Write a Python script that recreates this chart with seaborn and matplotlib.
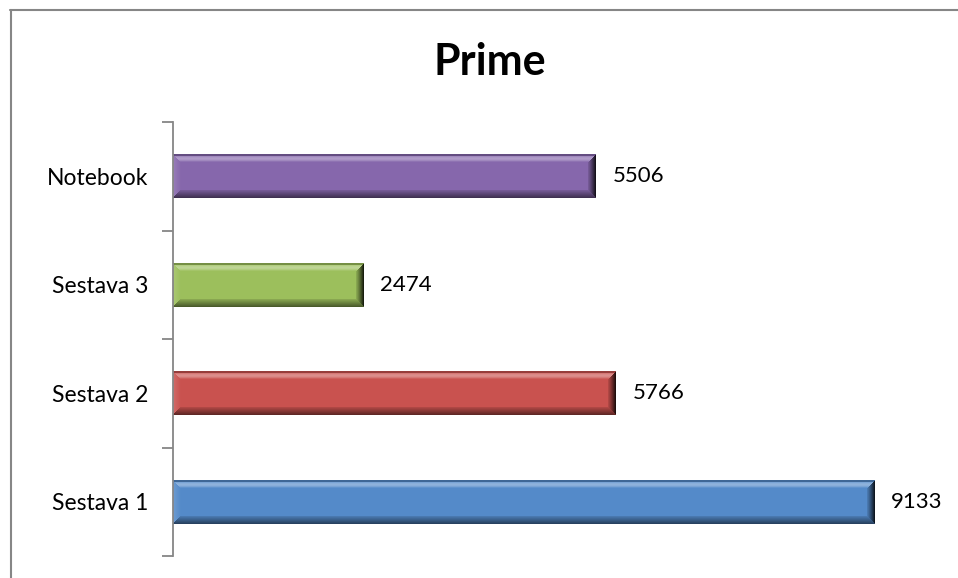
import numpy as np
import pandas as pd
import matplotlib
matplotlib.use("Agg")
import matplotlib.pyplot as plt
from matplotlib.lines import Line2D
from matplotlib.colors import to_rgb
import seaborn as sns

# Benchmark results (Prime), top to bottom as shown
systems = ["Notebook", "Sestava 3", "Sestava 2", "Sestava 1"]
scores = [5506, 2474, 5766, 9133]
colors = ["#8667AC", "#9CBF5C", "#C9524F", "#548AC9"]

df = pd.DataFrame({"system": systems, "score": scores})

sns.set_theme(style="white")
plt.rcParams["font.family"] = ["Lato", "DejaVu Sans"]

W, H = 958, 578
fig = plt.figure(figsize=(W / 100, H / 100), dpi=100)
ax = fig.add_axes([173 / W, 22 / H, 768 / W, 434 / H])

sns.barplot(data=df, x="score", y="system", hue="system", palette=colors,
            orient="h", width=0.405, legend=False, ax=ax, saturation=1)

ax.set_xlim(0, 10000)
ax.set_ylim(3.5, -0.5)


def bevel_image(rgb, npx_w, npx_h, b=8):
    """Shaded RGBA array giving a bevelled look to a bar."""
    yy, xx = np.mgrid[0:npx_h, 0:npx_w].astype(float)
    dt = yy + 0.5
    db = npx_h - yy - 0.5
    dl = xx + 0.5
    dr = npx_w - xx - 0.5
    base = np.array(rgb)
    out = np.ones((npx_h, npx_w, 3)) * base
    dmin = np.minimum.reduce([dt, db, dl, dr])
    inside = dmin < b
    edge = np.argmin(np.stack([dt, db, dl, dr]), axis=0)
    t = np.clip(dmin / b, 0, 1)

    def lighten(c, f):
        return c + (1 - c) * f

    def darken(c, f):
        return c * (1 - f)

    # top bevel: bright band with darker outer rim
    m = inside & (edge == 0)
    f_top = np.where(t < 0.2, -0.25, 0.35 * np.sin(np.pi * (t - 0.2) / 0.8 * 0.9 + 0.3))
    for k in range(3):
        ch = out[..., k]
        pos = m & (f_top >= 0)
        neg = m & (f_top < 0)
        ch[pos] = lighten(base[k], f_top[pos])
        ch[neg] = darken(base[k], -f_top[neg])
    # bottom bevel: darker
    m = inside & (edge == 1)
    f_bot = 0.45 * (1 - t) + 0.1
    for k in range(3):
        out[..., k][m] = darken(base[k], f_bot[m])
    # left bevel: slightly lighter
    m = inside & (edge == 2)
    f_l = 0.15 * (1 - t)
    for k in range(3):
        out[..., k][m] = lighten(base[k], f_l[m])
    # right bevel: fading to dark
    m = inside & (edge == 3)
    f_r = 0.8 * (1 - t) ** 1.2 + 0.1
    for k in range(3):
        out[..., k][m] = darken(base[k], f_r[m])
    return np.concatenate([np.clip(out, 0, 1), np.ones((npx_h, npx_w, 1))], axis=2)


fig.canvas.draw()
for patch, col in zip(ax.patches, colors):
    x0, y0 = patch.get_x(), patch.get_y()
    w, h = patch.get_width(), patch.get_height()
    p0 = ax.transData.transform((x0, y0))
    p1 = ax.transData.transform((x0 + w, y0 + h))
    npx_w = max(int(round(abs(p1[0] - p0[0]))), 2)
    npx_h = max(int(round(abs(p1[1] - p0[1]))), 2)
    img = bevel_image(to_rgb(col), npx_w, npx_h)
    ax.imshow(img, extent=(x0, x0 + w, y0 + h, y0), origin="upper",
              aspect="auto", interpolation="nearest", zorder=patch.get_zorder() + 0.1)
    ax.annotate(f"{int(round(w))}", xy=(x0 + w, y0 + h / 2), xytext=(12, 0),
                textcoords="offset points", ha="left", va="center",
                fontsize=16, color="#000000")

ax.set_xlim(0, 10000)
ax.set_ylim(3.5, -0.5)

# axis styling
for s in ["top", "right", "bottom"]:
    ax.spines[s].set_visible(False)
ax.spines["left"].set_color("#868686")
ax.spines["left"].set_linewidth(1.3)
ax.set_xticks([])
ax.set_xlabel("")
ax.set_ylabel("")
ax.set_yticks(range(len(systems)))
ax.set_yticklabels(systems, fontsize=16.5, color="#000000")
ax.tick_params(axis="y", which="major", length=0, pad=18)
ax.set_yticks(np.arange(-0.5, len(systems), 1.0), minor=True)
ax.tick_params(axis="y", which="minor", length=8, width=1.3, color="#868686",
               direction="out", left=True)

fig.text(490 / W, 1 - 62 / H, "Prime", ha="center", va="center",
         fontsize=31, fontweight="bold", color="#000000")

# chart frame
frame_kw = dict(color="#868686", linewidth=1.5, transform=fig.transFigure)
fig.add_artist(Line2D([10 / W, 1.0], [1 - 9.5 / H, 1 - 9.5 / H], **frame_kw))
fig.add_artist(Line2D([10.5 / W, 10.5 / W], [0, 1 - 9.5 / H], **frame_kw))

fig.savefig("out.png", dpi=100, facecolor="white")
